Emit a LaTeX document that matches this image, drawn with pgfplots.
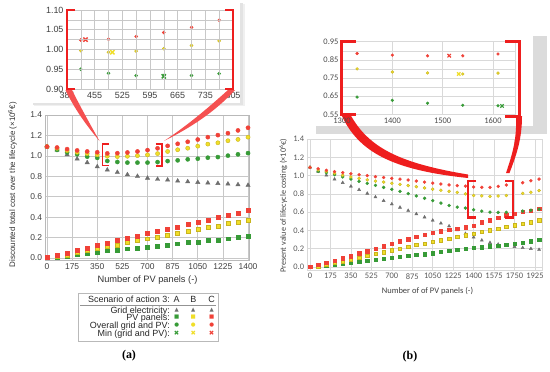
\documentclass[border=0pt]{standalone}
\usepackage{pgfplots}
\pgfplotsset{compat=1.18}
\usepackage{pgfplotstable}
\usepackage{fontspec}
\setmainfont{Liberation Sans}
\newfontfamily\calib{Carlito}
\newfontfamily\dejavu{DejaVu Sans}
\newfontfamily\serifb{Liberation Serif}
\definecolor{cR}{RGB}{240,65,55}
\definecolor{cY}{RGB}{240,222,40}
\definecolor{cYd}{RGB}{200,180,30}
\definecolor{cG}{RGB}{55,155,55}
\definecolor{cK}{RGB}{110,110,110}
\definecolor{cBr}{RGB}{238,30,30}
\definecolor{cCa}{RGB}{245,80,80}
\definecolor{cGrid}{RGB}{200,200,200}

\pgfplotstableread{
x grid pvA pvB pvC ovA ovB ovC
0    1.090 0.003 0.004 0.005 1.090 1.090 1.090
70   1.058 0.010 0.013 0.026 1.058 1.074 1.082
140  1.012 0.020 0.032 0.046 1.035 1.051 1.066
210  0.970 0.036 0.052 0.072 1.016 1.035 1.053
280  0.934 0.046 0.072 0.098 0.992 1.022 1.043
350  0.894 0.059 0.095 0.127 0.980 1.010 1.035
420  0.862 0.072 0.111 0.144 0.950 0.997 1.024
490  0.839 0.081 0.130 0.170 0.940 0.993 1.026
560  0.816 0.091 0.150 0.193 0.934 0.996 1.033
630  0.800 0.100 0.170 0.218 0.934 1.002 1.043
700  0.782 0.108 0.189 0.242 0.934 1.010 1.056
770  0.771 0.120 0.203 0.258 0.939 1.022 1.074
840  0.764 0.130 0.222 0.281 0.949 1.043 1.098
910  0.754 0.140 0.242 0.300 0.956 1.060 1.118
980  0.747 0.150 0.261 0.330 0.966 1.075 1.138
1050 0.741 0.157 0.281 0.346 0.972 1.095 1.160
1120 0.735 0.170 0.300 0.372 0.982 1.115 1.183
1190 0.731 0.179 0.316 0.395 0.988 1.128 1.203
1260 0.725 0.189 0.336 0.418 1.002 1.148 1.222
1330 0.718 0.199 0.353 0.441 1.015 1.161 1.249
1400 0.712 0.212 0.372 0.467 1.027 1.183 1.275
}\tabA

\pgfplotstableread{
x grid pvA pvB pvC ovA ovB ovC
0    1.090 0.000 0.000 0.003 1.090 1.090 1.090
70   1.045 0.007 0.010 0.022 1.047 1.062 1.075
140  1.003 0.016 0.026 0.044 1.032 1.046 1.058
210  0.960 0.027 0.044 0.069 1.010 1.025 1.043
280  0.922 0.038 0.062 0.095 0.985 1.004 1.032
350  0.882 0.050 0.080 0.120 0.962 0.985 1.020
420  0.845 0.061 0.102 0.150 0.937 0.970 1.010
490  0.805 0.072 0.124 0.175 0.915 0.953 0.999
560  0.765 0.083 0.146 0.200 0.893 0.940 0.988
630  0.725 0.094 0.164 0.226 0.871 0.929 0.980
700  0.688 0.104 0.182 0.255 0.850 0.916 0.970
770  0.652 0.114 0.200 0.281 0.828 0.905 0.962
840  0.617 0.123 0.222 0.306 0.803 0.891 0.952
910  0.580 0.132 0.241 0.330 0.778 0.879 0.940
980  0.545 0.142 0.258 0.352 0.752 0.865 0.928
1050 0.510 0.152 0.276 0.372 0.726 0.851 0.917
1120 0.478 0.165 0.294 0.392 0.699 0.840 0.908
1190 0.447 0.176 0.310 0.410 0.673 0.828 0.898
1260 0.405 0.187 0.330 0.420 0.655 0.817 0.890
1330 0.365 0.200 0.346 0.435 0.645 0.800 0.885
1400 0.325 0.210 0.365 0.455 0.627 0.783 0.876
1470 0.292 0.218 0.383 0.490 0.611 0.778 0.872
1540 0.266 0.226 0.402 0.512 0.600 0.772 0.872
1610 0.248 0.236 0.422 0.540 0.597 0.777 0.882
1680 0.235 0.246 0.440 0.565 0.598 0.782 0.897
1750 0.222 0.256 0.458 0.585 nan nan nan
1820 0.210 0.268 0.475 0.602 0.612 0.806 0.922
1890 0.200 0.283 0.492 0.618 0.622 0.818 0.943
1960 0.190 0.298 0.510 0.635 0.632 0.836 0.962
}\tabB

\pgfplotsset{
  /pgf/number format/assume math mode=true,
  /pgf/number format/1000 sep={},
}

\begin{document}
\begin{tikzpicture}[x=1bp,y=1bp]
\useasboundingbox (0,0) rectangle (550,371);

% inset (a) frame with soft shadow
\fill[gray!12] (34,265) rectangle (245,367);
\fill[gray!22] (33,266) rectangle (243,368);
\fill[white] (30,268) rectangle (240,371);

% ================= Panel (a) inset =================
\begin{axis}[
  at={(67bp,282bp)}, anchor=south west, scale only axis,
  width=166bp, height=79bp,
  xmin=385, xmax=805, ymin=0.9, ymax=1.1,
  xtick={385,455,525,595,665,735,805},
  ytick={0.90,0.95,1.00,1.05,1.10},
  minor xtick={420,490,560,630,700,770},
  minor ytick={0.925,0.975,1.025,1.075},
  grid=both,
  major grid style={draw=cGrid,line width=0.6bp},
  minor grid style={draw=cGrid,line width=0.6bp},
  yticklabel style={/pgf/number format/.cd,fixed,fixed zerofill,precision=2},
  axis line style={draw=gray!45}, major tick length=0pt, minor tick length=0pt,
  tick label style={font=\fontsize{9}{10}\selectfont, text=black!75},
]
\addplot[only marks, mark=*, mark size=1.6, color=cG] table[x=x,y=ovA]{\tabA};
\addplot[only marks, mark=*, mark size=1.6, draw=cYd, fill=cY] table[x=x,y=ovB]{\tabA};
\addplot[only marks, mark=*, mark size=1.6, color=cR] table[x=x,y=ovC]{\tabA};
\addplot[only marks, mark=x, mark size=3, line width=1.4bp, color=cG] coordinates {(630,0.932)};
\addplot[only marks, mark=x, mark size=3, line width=1.4bp, color=cY] coordinates {(500,0.993)};
\addplot[only marks, mark=x, mark size=3, line width=1.4bp, color=cR] coordinates {(432,1.025)};
\end{axis}
% inset (a) grid lines (light, drawn over)
\begin{scope}[draw=cGrid, line width=0.55bp, opacity=0.8]
\foreach \v in {80.83,94.67,108.5,122.33,136.17,150,163.83,177.67,191.5,205.33,219.17}
  \draw (\v,282) -- (\v,361);
\foreach \w in {291.875,301.75,311.625,321.5,331.375,341.25,351.125}
  \draw (67,\w) -- (233,\w);
\draw (67,282) rectangle (233,361);
\end{scope}

% ================= Panel (a) main =================
\begin{axis}[
  at={(45.56bp,110.96bp)}, anchor=south west, scale only axis,
  width=203.9bp, height=145.04bp,
  xmin=-10, xmax=1410, ymin=-0.02, ymax=1.4,
  xtick={0,175,350,525,700,875,1050,1225,1400},
  ytick={0,0.2,0.4,0.6,0.8,1.0,1.2,1.4},
  yticklabel style={/pgf/number format/.cd,fixed,fixed zerofill,precision=1},
  grid=major, major grid style={draw=cGrid,line width=0.6bp},
  axis line style={draw=gray!55}, major tick length=0pt,
  tick label style={font=\fontsize{8.5}{9}\selectfont, text=black!75},
  xlabel={Number of PV panels (-)},
  ylabel={Discounted total cost over the lifecycle (×10\textsuperscript{6}€)},
  xlabel style={font=\fontsize{9.3}{10}\selectfont, text=black!80, at={(axis description cs:0.5,-0.138)}, anchor=center},
  ylabel style={font=\fontsize{8}{9}\selectfont, text=black!80, at={(axis description cs:-0.162,0.52)}, anchor=center},
  clip=false,
]
\addplot[only marks, mark=triangle*, mark size=2.5, color=cK] table[x=x,y=grid]{\tabA};
\addplot[only marks, mark=square*, mark size=2.0, color=cG] table[x=x,y=pvA]{\tabA};
\addplot[only marks, mark=square*, mark size=2.0, draw=cYd, fill=cY] table[x=x,y=pvB]{\tabA};
\addplot[only marks, mark=square*, mark size=2.0, color=cR] table[x=x,y=pvC]{\tabA};
\addplot[only marks, mark=*, mark size=2.1, color=cG] table[x=x,y=ovA]{\tabA};
\addplot[only marks, mark=*, mark size=2.1, draw=cYd, fill=cY] table[x=x,y=ovB]{\tabA};
\addplot[only marks, mark=*, mark size=2.1, color=cR] table[x=x,y=ovC]{\tabA};
\end{axis}

% callouts (a)
\fill[cCa] (65.5,281) .. controls (74,263) and (86,246) .. (99.5,230) .. controls (90,247) and (80,265) .. (72,281) -- cycle;
\fill[cCa] (235,281) .. controls (215,259) and (190,243) .. (164,230) .. controls (188,246) and (208,263) .. (228,281) -- cycle;

% brackets (a)
\draw[cBr, line width=2bp] (75,361) -- (67,361) -- (67,282) -- (75,282);
\draw[cBr, line width=2bp] (225,361) -- (233,361) -- (233,282) -- (225,282);
\draw[cBr, line width=1.3bp] (109,227) -- (102.5,227) -- (102.5,205.5) -- (109,205.5);
\draw[cBr, line width=1.3bp] (155.5,227) -- (162,227) -- (162,205) -- (155.5,205);

% legend table (a)
\draw[gray!55, line width=0.6bp] (78,78) rectangle (218,30);
\draw[gray!85, line width=0.8bp] (80,66) -- (216,66);
\begin{scope}[every node/.style={font=\fontsize{9}{10}\selectfont, text=black!85, inner sep=0pt, text height=1.55ex, text depth=0.3ex}]
\node[anchor=east] at (170,71.5) {Scenario of action 3:};
\node at (176.7,71.5) {A};
\node at (193.3,71.5) {B};
\node at (211.7,71.5) {C};
\node[anchor=east] at (170,61) {Grid electricity:};
\node[anchor=east] at (170,53.5) {PV panels:};
\node[anchor=east] at (170,46) {Overall grid and PV:};
\node[anchor=east] at (170,38) {Min (grid and PV):};
\end{scope}
\begin{scope}[every node/.style={inner sep=0pt, font=\dejavu\fontsize{5.5}{6}\selectfont}]
\node[text=cK] at (176.7,61) {▲}; \node[text=cK] at (193.3,61) {▲}; \node[text=cK] at (211.7,61) {▲};
\node[text=cG] at (176.7,53.5) {■}; \node[text=cY] at (193.3,53.5) {■}; \node[text=cR] at (211.7,53.5) {■};
\node[text=cG] at (176.7,46) {●}; \node[text=cY] at (193.3,46) {●}; \node[text=cR] at (211.7,46) {●};
\node[text=cG, font=\dejavu\fontsize{6.5}{7}\selectfont] at (176.7,38) {✖}; \node[text=cY, font=\dejavu\fontsize{6.5}{7}\selectfont] at (193.3,38) {✖}; \node[text=cR, font=\dejavu\fontsize{6.5}{7}\selectfont] at (211.7,38) {✖};
\end{scope}
\node[font=\serifb\bfseries\fontsize{12}{12}\selectfont] at (129,15) {(a)};

% ================= Panel (b) main =================
\begin{axis}[
  at={(307.66bp,101.26bp)}, anchor=south west, scale only axis,
  width=234.9bp, height=130.7bp,
  xmin=-20, xmax=1990, ymin=-0.03, ymax=1.4,
  xtick={0,175,350,525,700,875,1050,1225,1400,1575,1750,1925},
  ytick={0,0.2,0.4,0.6,0.8,1.0,1.2,1.4},
  yticklabel style={/pgf/number format/.cd,fixed,fixed zerofill,precision=1},
  grid=major, major grid style={draw=gray!30,line width=0.5bp},
  axis line style={draw=gray!30}, major tick length=0pt,
  tick label style={font=\calib\fontsize{8.5}{9}\selectfont, text=black!65},
  xlabel={Number of of PV panels (-)},
  ylabel={Present value of lifecycle costing (×10\textsuperscript{6}€)},
  xlabel style={font=\calib\fontsize{8.5}{9}\selectfont, text=black!75, at={(axis description cs:0.51,-0.166)}, anchor=center},
  ylabel style={font=\calib\fontsize{8.2}{9}\selectfont, text=black!75, at={(axis description cs:-0.104,0.49)}, anchor=center},
  clip=false,
]
\addplot[only marks, mark=triangle*, mark size=1.8, color=cK] table[x=x,y=grid]{\tabB};
\addplot[only marks, mark=square*, mark size=1.7, color=cG] table[x=x,y=pvA]{\tabB};
\addplot[only marks, mark=square*, mark size=1.7, draw=cYd, fill=cY] table[x=x,y=pvB]{\tabB};
\addplot[only marks, mark=square*, mark size=1.7, color=cR] table[x=x,y=pvC]{\tabB};
\addplot[only marks, mark=*, mark size=1.5, color=cG] table[x=x,y=ovA]{\tabB};
\addplot[only marks, mark=*, mark size=1.5, draw=cYd, fill=cY] table[x=x,y=ovB]{\tabB};
\addplot[only marks, mark=*, mark size=1.5, color=cR] table[x=x,y=ovC]{\tabB};
\end{axis}

% inset (b) frame
\fill[gray!28] (316,237) rectangle (547,335);
\fill[white] (306,245) rectangle (533,343);

% callouts (b)
\fill[cBr] (341,257) .. controls (358,219) and (392,201) .. (468,193) -- (468,196.5) .. controls (398,208) and (368,224) .. (350,257) -- cycle;
\fill[cBr] (516,255) .. controls (517,231) and (512,216) .. (506,198) -- (509.5,198) .. controls (516,215) and (522,231) .. (522,255) -- cycle;

% ================= Panel (b) inset =================
\begin{axis}[
  at={(342bp,256.7bp)}, anchor=south west, scale only axis,
  width=173.6bp, height=72.6bp,
  xmin=1300, xmax=1645, ymin=0.55, ymax=0.95,
  xtick={1300,1400,1500,1600},
  ytick={0.55,0.65,0.75,0.85,0.95},
  minor ytick={0.60,0.70,0.80,0.90},
  xmajorgrids=true, ymajorgrids=true, yminorgrids=true,
  major grid style={draw=gray!30,line width=0.5bp}, minor grid style={draw=gray!30,line width=0.5bp},
  yticklabel style={/pgf/number format/.cd,fixed,fixed zerofill,precision=2},
  axis line style={draw=gray!30}, major tick length=0pt, minor tick length=0pt,
  tick label style={font=\calib\fontsize{8.5}{9}\selectfont, text=black!70},
]
\addplot[only marks, mark=*, mark size=1.4, color=cG] table[x=x,y=ovA]{\tabB};
\addplot[only marks, mark=*, mark size=1.4, draw=cYd, fill=cY] table[x=x,y=ovB]{\tabB};
\addplot[only marks, mark=*, mark size=1.4, color=cR] table[x=x,y=ovC]{\tabB};
\addplot[only marks, mark=x, mark size=2.4, line width=1.1bp, color=cG] coordinates {(1618,0.596)};
\addplot[only marks, mark=x, mark size=2.4, line width=1.1bp, color=cY] coordinates {(1532,0.772)};
\addplot[only marks, mark=x, mark size=2.4, line width=1.1bp, color=cR] coordinates {(1513,0.873)};
\end{axis}

% brackets (b)
\draw[cBr, line width=3bp] (356,330) -- (341,330) -- (341,256.7) -- (356,256.7);
\draw[cBr, line width=3bp] (505,330) -- (519,330) -- (519,255) -- (505,255);
\draw[cBr, line width=2.5bp] (476,190) -- (468,190) -- (468,153.5) -- (476,153.5);
\draw[cBr, line width=2.5bp] (505,190) -- (513,190) -- (513,153.5) -- (505,153.5);

\node[font=\serifb\bfseries\fontsize{12}{12}\selectfont] at (410,14) {(b)};
\end{tikzpicture}
\end{document}
